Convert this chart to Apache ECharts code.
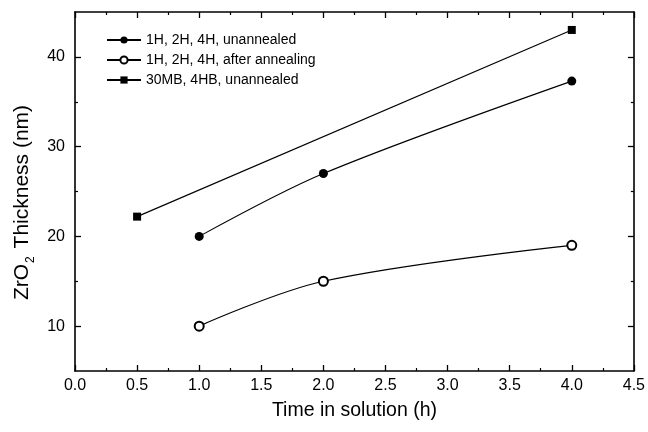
<!DOCTYPE html>
<html><head><meta charset="utf-8">
<script src="https://cdn.jsdelivr.net/npm/echarts@6/dist/echarts.min.js"></script>
<style>html,body{margin:0;padding:0;background:#fff}#c{width:648px;height:432px}</style>
</head><body><div id="c"></div>
<script>
const seriesNames = ['1H, 2H, 4H, unannealed', '1H, 2H, 4H, after annealing', '30MB, 4HB, unannealed'];
const unannealedX = [1.0, 2.0, 4.0];
const unannealedY = [20.0, 27.0, 37.3];
const annealedX = [1.0, 2.0, 4.0];
const annealedY = [10.0, 15.0, 19.0];
const mbX = [0.5, 4.0];
const mbY = [22.2, 43.0];
const yTicks = [10, 20, 30, 40];
const yMinorTicks = [15, 25, 35];

const pair = (xs, ys) => xs.map((x, i) => [x, ys[i]]);
const font = 'Liberation Sans, Arial, sans-serif';
const axisLine = {show: true, lineStyle: {color: '#000', width: 1.6}};

const chart = echarts.init(document.getElementById('c'), null, {renderer: 'canvas'});
chart.setOption({
  animation: false,
  backgroundColor: '#fff',
  grid: {left: 75, right: 14, top: 12, bottom: 61},
  legend: {
    orient: 'vertical', left: 101, top: 28, itemGap: 6, itemWidth: 34, itemHeight: 9,
    textStyle: {fontFamily: font, fontSize: 14, color: '#000'},
    data: seriesNames
  },
  xAxis: [{
    type: 'value', min: 0, max: 4.5, interval: 0.5,
    axisLine: axisLine,
    axisTick: {show: true, inside: true, length: 6, lineStyle: {color: '#000', width: 1.3}},
    minorTick: {show: true, splitNumber: 2, length: 3, lineStyle: {color: '#000', width: 1.2}},
    splitLine: {show: false},
    axisLabel: {fontFamily: font, fontSize: 16, color: '#000', margin: 7,
      formatter: v => v.toFixed(1)},
    name: 'Time in solution (h)', nameLocation: 'middle', nameGap: 30,
    nameTextStyle: {fontFamily: font, fontSize: 19.5, color: '#000'}
  }, {
    type: 'value', min: 0, max: 4.5, interval: 0.5, position: 'top',
    axisLine: axisLine,
    axisTick: {show: true, inside: true, length: 6, lineStyle: {color: '#000', width: 1.3}},
    minorTick: {show: true, splitNumber: 2, length: 3, lineStyle: {color: '#000', width: 1.2}},
    splitLine: {show: false}, axisLabel: {show: false}
  }],
  yAxis: [{
    type: 'value', min: 5, max: 45, interval: 5,
    axisLine: axisLine,
    axisTick: {show: true, inside: true, length: 6, customValues: yTicks, lineStyle: {color: '#000', width: 1.3}},
    splitLine: {show: false},
    axisLabel: {fontFamily: font, fontSize: 16, color: '#000', margin: 10, customValues: yTicks},
    name: '{a|ZrO}{b|2}{a| Thickness (nm)}', nameLocation: 'middle', nameGap: 36, nameRotate: 90,
    nameTextStyle: {fontFamily: font, fontSize: 21, color: '#000', padding: [0, 22, 0, 0],
      rich: {a: {fontFamily: font, fontSize: 21, color: '#000', lineHeight: 25, verticalAlign: 'bottom'},
             b: {fontFamily: font, fontSize: 12, color: '#000', lineHeight: 25, verticalAlign: 'bottom', padding: [0, 2, -4, 1]}}}
  }, {
    type: 'value', min: 5, max: 45, interval: 5, position: 'left',
    axisLine: {show: false},
    axisTick: {show: true, inside: true, length: 3, customValues: yMinorTicks, lineStyle: {color: '#000', width: 1.2}},
    splitLine: {show: false}, axisLabel: {show: false}
  }, {
    type: 'value', min: 5, max: 45, interval: 5, position: 'right',
    axisLine: axisLine,
    axisTick: {show: true, inside: true, length: 6, customValues: yTicks, lineStyle: {color: '#000', width: 1.3}},
    splitLine: {show: false}, axisLabel: {show: false}
  }, {
    type: 'value', min: 5, max: 45, interval: 5, position: 'right',
    axisLine: {show: false},
    axisTick: {show: true, inside: true, length: 3, customValues: yMinorTicks, lineStyle: {color: '#000', width: 1.2}},
    splitLine: {show: false}, axisLabel: {show: false}
  }],
  series: [{
    name: seriesNames[0], type: 'line', smooth: 0.3, data: pair(unannealedX, unannealedY),
    symbol: 'circle', symbolSize: 9,
    itemStyle: {color: '#000'}, lineStyle: {color: '#000', width: 1.1}
  }, {
    name: seriesNames[1], type: 'line', smooth: 0.35, data: pair(annealedX, annealedY),
    symbol: 'emptyCircle', symbolSize: 9,
    itemStyle: {color: '#000', borderWidth: 1.3}, lineStyle: {color: '#000', width: 1.1}
  }, {
    name: seriesNames[2], type: 'line', data: pair(mbX, mbY),
    symbol: 'rect', symbolSize: 8,
    itemStyle: {color: '#000'}, lineStyle: {color: '#000', width: 1.1}
  }]
});
</script></body></html>
